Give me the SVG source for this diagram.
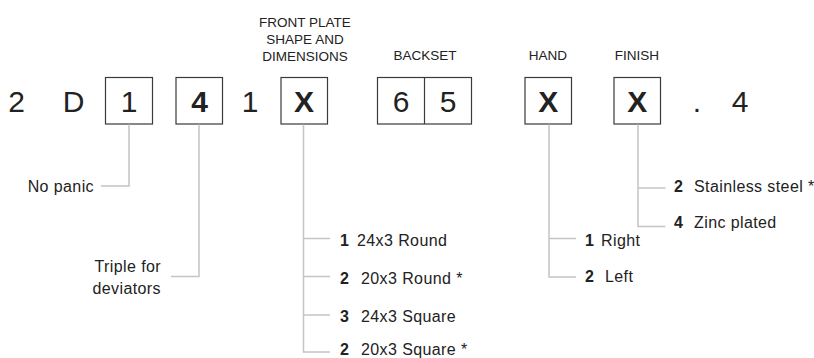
<svg xmlns="http://www.w3.org/2000/svg" width="814" height="358" viewBox="0 0 814 358">
<style>
text{font-family:"Liberation Sans",Arial,sans-serif;fill:#222}
.code{font-size:30px;text-anchor:middle}
.b{font-weight:bold}
.head{font-size:13.5px;text-anchor:middle}
.lbl{font-size:16px;letter-spacing:0.4px}
.box{fill:none;stroke:#3a3a3a;stroke-width:1.2}
.con{fill:none;stroke:#c4c4c4;stroke-width:1.5}
</style>
<rect width="814" height="358" fill="#fff"/>
<g id="headings">
<text class="head" x="305" y="27">FRONT PLATE</text>
<text class="head" x="305" y="44">SHAPE AND</text>
<text class="head" x="305" y="61">DIMENSIONS</text>
<text class="head" x="425" y="60">BACKSET</text>
<text class="head" x="548" y="60">HAND</text>
<text class="head" x="637" y="60">FINISH</text>
</g>
<g id="code-fixed">
<text class="code" x="16.5" y="112">2</text>
<text class="code" x="73.5" y="112">D</text>
<text class="code" x="250" y="112">1</text>
<text class="code" x="697" y="112">.</text>
<text class="code" x="740" y="112">4</text>
</g>
<g id="panic">
<rect class="box" x="105.5" y="77.5" width="47" height="46.5"/>
<text class="code" x="129" y="112">1</text>
</g>
<g id="deviators">
<rect class="box" x="176" y="77.5" width="46.5" height="46.5"/>
<text class="code b" x="199.5" y="112">4</text>
</g>
<g id="frontplate">
<rect class="box" x="281" y="77.5" width="46.5" height="46.5"/>
<text class="code b" x="304" y="112">X</text>
</g>
<g id="backset">
<rect class="box" x="377.5" y="77.5" width="94" height="46.5"/>
<line class="box" x1="424.5" y1="77.5" x2="424.5" y2="124"/>
<text class="code" x="401" y="112">6</text>
<text class="code" x="448" y="112">5</text>
</g>
<g id="hand">
<rect class="box" x="525" y="77.5" width="46.5" height="46.5"/>
<text class="code b" x="548.3" y="112">X</text>
</g>
<g id="finish">
<rect class="box" x="614" y="77.5" width="46.5" height="46.5"/>
<text class="code b" x="637.3" y="112">X</text>
</g>
<g id="connectors">
<polyline class="con" points="129,124.5 129,186 101,186"/>
<polyline class="con" points="199,124.5 199,276.5 171,276.5"/>
<polyline class="con" points="303.5,124.5 303.5,352 330,352"/>
<line class="con" x1="303.5" y1="238.5" x2="330" y2="238.5"/>
<line class="con" x1="303.5" y1="276.5" x2="330" y2="276.5"/>
<line class="con" x1="303.5" y1="315" x2="330" y2="315"/>
<polyline class="con" points="549,124.5 549,277 576,277"/>
<line class="con" x1="549" y1="238.5" x2="576" y2="238.5"/>
<polyline class="con" points="638,124.5 638,226.5 665.5,226.5"/>
<line class="con" x1="638" y1="188" x2="665.5" y2="188"/>
</g>
<g id="labels">
<text class="lbl" x="94" y="192" text-anchor="end">No panic</text>
<text class="lbl" x="161" y="272" text-anchor="end">Triple for</text>
<text class="lbl" x="161" y="294" text-anchor="end">deviators</text>
<text class="lbl b" x="340" y="246">1</text><text class="lbl" x="357" y="246">24x3 Round</text>
<text class="lbl b" x="340" y="284">2</text><text class="lbl" x="361" y="284">20x3 Round *</text>
<text class="lbl b" x="340" y="321.5">3</text><text class="lbl" x="361" y="321.5">24x3 Square</text>
<text class="lbl b" x="340" y="355">2</text><text class="lbl" x="361" y="355">20x3 Square *</text>
<text class="lbl b" x="585" y="246">1</text><text class="lbl" x="601" y="246">Right</text>
<text class="lbl b" x="585" y="282">2</text><text class="lbl" x="605" y="282">Left</text>
<text class="lbl b" x="674" y="192">2</text><text class="lbl" x="694" y="192">Stainless steel *</text>
<text class="lbl b" x="674" y="227.5">4</text><text class="lbl" x="694" y="227.5">Zinc plated</text>
</g>
</svg>
